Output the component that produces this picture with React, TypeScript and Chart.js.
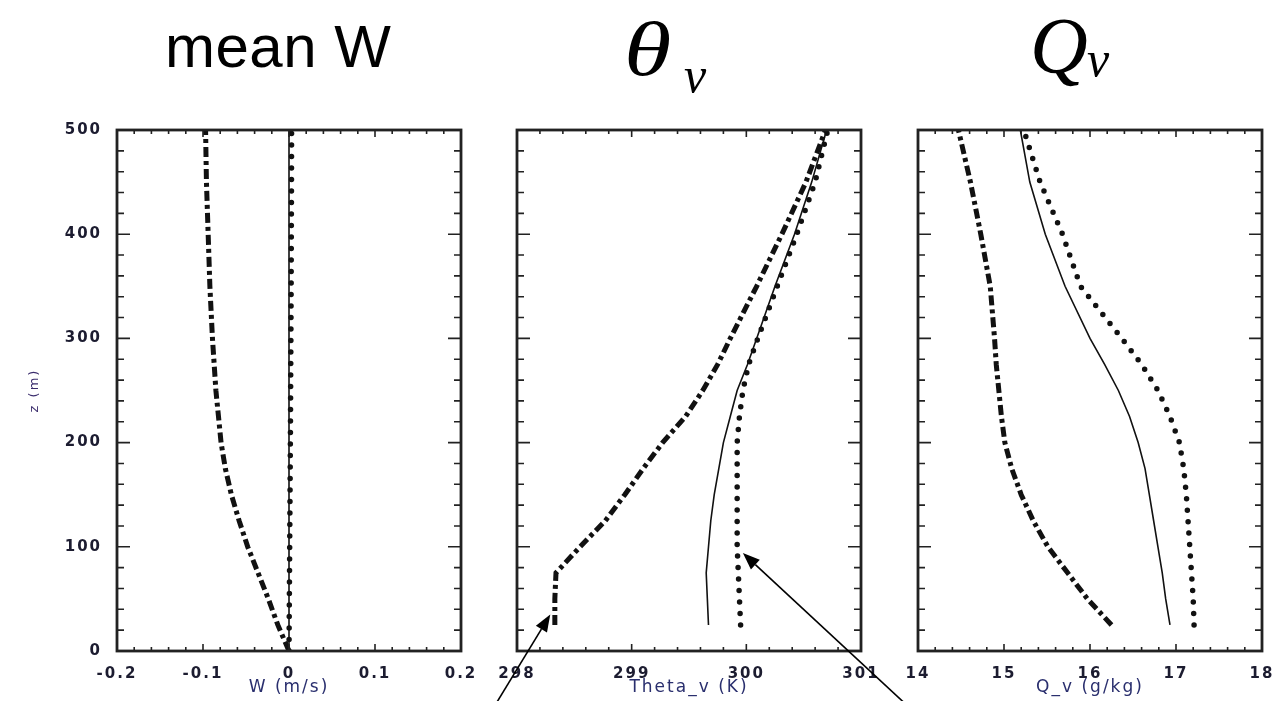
import React, { useEffect, useRef } from "react";
import { Chart, registerables } from "chart.js";

Chart.register(...registerables);

// ---------- Panel 1: mean W ----------
const W_Z = [0, 25, 50, 75, 100, 125, 150, 175, 200, 250, 300, 350, 400, 450, 500];
const W_DASHDOT = [0, -0.013, -0.024, -0.036, -0.048, -0.058, -0.067, -0.074, -0.079, -0.085, -0.089, -0.092, -0.094, -0.096, -0.097];
const W_SOLID = [0, 0, 0, 0, 0, 0, 0, 0, 0, 0, 0, 0, 0, 0, 0];
const W_DOTTED = [0, 0.0002, 0.0004, 0.0006, 0.0008, 0.001, 0.0012, 0.0014, 0.0016, 0.0019, 0.0022, 0.0025, 0.0027, 0.0029, 0.003];
const W_TICKS = [-0.2, -0.1, 0, 0.1, 0.2];
const W_TICK_LABELS = ["-0.2", "-0.1", "0", "0.1", "0.2"];

// ---------- Panels 2 & 3: common heights ----------
const PROFILE_Z = [25, 50, 75, 100, 125, 150, 175, 200, 225, 250, 275, 300, 350, 400, 450, 500];

// ---------- Panel 2: Theta_v ----------
const TH_DASHDOT = [298.33, 298.33, 298.34, 298.55, 298.77, 298.94, 299.1, 299.27, 299.47, 299.62, 299.75, 299.86, 300.09, 300.31, 300.52, 300.69];
const TH_SOLID = [299.67, 299.66, 299.65, 299.67, 299.69, 299.72, 299.76, 299.8, 299.86, 299.92, 300.01, 300.09, 300.25, 300.42, 300.57, 300.7];
const TH_DOTTED = [299.95, 299.94, 299.93, 299.92, 299.92, 299.92, 299.92, 299.92, 299.94, 299.97, 300.02, 300.1, 300.27, 300.44, 300.6, 300.71];
const TH_TICKS = [298, 299, 300, 301];
const TH_TICK_LABELS = ["298", "299", "300", "301"];
// arrow annotations (tail -> tip) in data units of panel 2
const ARROW_TIPS = [
  { x: 298.29, y: 35 },
  { x: 299.97, y: 94 },
];
const ARROW_TAILS = [
  { x: 297.82, y: -50 },
  { x: 301.38, y: -50 },
];

// ---------- Panel 3: Q_v ----------
const Q_DASHDOT = [16.25, 15.97, 15.74, 15.51, 15.34, 15.2, 15.09, 15.01, 14.97, 14.94, 14.91, 14.89, 14.84, 14.73, 14.61, 14.47];
const Q_SOLID = [16.93, 16.88, 16.84, 16.79, 16.74, 16.69, 16.64, 16.56, 16.46, 16.33, 16.17, 16.0, 15.71, 15.48, 15.3, 15.19];
const Q_DOTTED = [17.21, 17.2, 17.18, 17.16, 17.14, 17.12, 17.09, 17.04, 16.93, 16.79, 16.6, 16.37, 15.89, 15.68, 15.42, 15.23];
const Q_TICKS = [14, 15, 16, 17, 18];
const Q_TICK_LABELS = ["14", "15", "16", "17", "18"];

// ---------- common z axis ----------
const Z_TICKS = [0, 100, 200, 300, 400, 500];
const Z_TICK_LABELS = ["0", "100", "200", "300", "400", "500"];

const INK = "#111";
const TICK_COLOR = "#1c1c30";
const TITLE_COLOR = "#2a2f6e";
const TICK_FONT = { family: "'DejaVu Sans', sans-serif", size: 15, weight: "bold" as const };

function pairs(xs: number[], zs: number[]) {
  return zs.map((z, i) => ({ x: xs[i], y: z }));
}

type PanelSpec = {
  z: number[];
  dashdot: number[];
  solid: number[];
  dotted: number[];
  xMin: number;
  xMax: number;
  xTicks: number[];
  xLabels: string[];
  xMinorStep: number;
  xTitle: string;
  canvasWidth: number;
  yWidth: number;
  rightPad: number;
  showY: boolean;
  arrows?: boolean;
};

const axesPlugin = (spec: PanelSpec) => ({
  id: "idlAxes",
  beforeDraw(chart: any) {
    chart.ctx.letterSpacing = "2px";
  },
  afterDraw(chart: any) {
    const { ctx, chartArea: a, scales } = chart;
    const xs = scales.x;
    const ys = scales.y;
    ctx.save();
    ctx.letterSpacing = "0px";
    ctx.strokeStyle = "#222";
    ctx.lineWidth = 1.6;
    // x ticks (top & bottom, inward)
    const nx = Math.round((spec.xMax - spec.xMin) / spec.xMinorStep);
    const perMajorX = Math.round((spec.xTicks[1] - spec.xTicks[0]) / spec.xMinorStep);
    for (let i = 0; i <= nx; i++) {
      const px = xs.getPixelForValue(spec.xMin + i * spec.xMinorStep);
      const len = i % perMajorX === 0 ? 7 : 4;
      ctx.beginPath();
      ctx.moveTo(px, a.bottom);
      ctx.lineTo(px, a.bottom - len);
      ctx.moveTo(px, a.top);
      ctx.lineTo(px, a.top + len);
      ctx.stroke();
    }
    // y ticks (left & right, inward)
    const zMin = Z_TICKS[0];
    const zMax = Z_TICKS[Z_TICKS.length - 1];
    const zMinor = 20;
    const ny = Math.round((zMax - zMin) / zMinor);
    const perMajorY = Math.round((Z_TICKS[1] - Z_TICKS[0]) / zMinor);
    for (let i = 0; i <= ny; i++) {
      const py = ys.getPixelForValue(zMin + i * zMinor);
      const len = i % perMajorY === 0 ? 13 : 7;
      ctx.beginPath();
      ctx.moveTo(a.left, py);
      ctx.lineTo(a.left + len, py);
      ctx.moveTo(a.right, py);
      ctx.lineTo(a.right - len, py);
      ctx.stroke();
    }
    // frame
    ctx.lineWidth = 2.8;
    ctx.strokeRect(a.left, a.top, a.right - a.left, a.bottom - a.top);

    // arrows
    if (spec.arrows) {
      ctx.strokeStyle = "#000";
      ctx.fillStyle = "#000";
      ctx.lineWidth = 1.6;
      ARROW_TIPS.forEach((tip, i) => {
        const tail = ARROW_TAILS[i];
        const x1 = xs.getPixelForValue(tail.x);
        const y1 = ys.getPixelForValue(tail.y);
        const x2 = xs.getPixelForValue(tip.x);
        const y2 = ys.getPixelForValue(tip.y);
        const ang = Math.atan2(y2 - y1, x2 - x1);
        const headLen = 17;
        const headHalf = 6.5;
        const bx = x2 - headLen * Math.cos(ang);
        const by = y2 - headLen * Math.sin(ang);
        ctx.beginPath();
        ctx.moveTo(x1, y1);
        ctx.lineTo(bx, by);
        ctx.stroke();
        ctx.beginPath();
        ctx.moveTo(x2, y2);
        ctx.lineTo(bx + headHalf * Math.sin(ang), by - headHalf * Math.cos(ang));
        ctx.lineTo(bx - headHalf * Math.sin(ang), by + headHalf * Math.cos(ang));
        ctx.closePath();
        ctx.fill();
      });
    }
    ctx.restore();
    chart.ctx.letterSpacing = "0px";
  },
});

function makeConfig(spec: PanelSpec): any {
  return {
    type: "scatter",
    data: {
      datasets: [
        {
          label: "dash-dot",
          data: pairs(spec.dashdot, spec.z),
          showLine: true,
          borderColor: INK,
          borderWidth: 5,
          borderDash: [10, 4, 4, 4],
          pointRadius: 0,
          fill: false,
        },
        {
          label: "solid",
          data: pairs(spec.solid, spec.z),
          showLine: true,
          borderColor: INK,
          borderWidth: 1.6,
          pointRadius: 0,
          fill: false,
        },
        {
          label: "dotted",
          data: pairs(spec.dotted, spec.z),
          showLine: true,
          borderColor: INK,
          borderWidth: 5.5,
          borderDash: [0, 11.5],
          borderCapStyle: "round",
          pointRadius: 0,
          fill: false,
        },
      ],
    },
    options: {
      responsive: false,
      animation: false,
      maintainAspectRatio: false,
      events: [],
      layout: { padding: { left: 0, top: 130, right: spec.rightPad, bottom: 0 } },
      plugins: { legend: { display: false }, tooltip: { enabled: false }, title: { display: false } },
      scales: {
        x: {
          type: "linear",
          position: "bottom",
          min: spec.xMin,
          max: spec.xMax,
          grid: { display: false, drawTicks: false },
          border: { display: false },
          afterBuildTicks: (s: any) => {
            s.ticks = spec.xTicks.map((v) => ({ value: v }));
          },
          afterFit: (s: any) => {
            s.height = 50;
            s.paddingLeft = 0;
            s.paddingRight = 0;
          },
          ticks: {
            autoSkip: false,
            maxRotation: 0,
            padding: 14,
            color: TICK_COLOR,
            font: TICK_FONT,
            callback: (_v: any, i: number) => spec.xLabels[i],
          },
          title: {
            display: true,
            text: spec.xTitle,
            color: TITLE_COLOR,
            font: { family: "'DejaVu Sans', sans-serif", size: 17 },
            padding: { top: 0, bottom: 3 },
          },
        },
        y: {
          type: "linear",
          position: "left",
          min: Z_TICKS[0],
          max: Z_TICKS[Z_TICKS.length - 1],
          grid: { display: false, drawTicks: false },
          border: { display: false },
          afterBuildTicks: (s: any) => {
            s.ticks = Z_TICKS.map((v) => ({ value: v }));
          },
          afterFit: (s: any) => {
            s.width = spec.yWidth;
            s.paddingTop = 0;
            s.paddingBottom = 0;
          },
          ticks: {
            display: spec.showY,
            padding: 15,
            color: TICK_COLOR,
            font: TICK_FONT,
            callback: (_v: any, i: number) => Z_TICK_LABELS[i],
          },
          title: {
            display: spec.showY,
            text: "z (m)",
            color: "#3a2c6c",
            font: { family: "'DejaVu Sans', sans-serif", size: 13 },
            padding: { top: 27, bottom: 0 },
          },
        },
      },
    },
    plugins: [axesPlugin(spec)],
  };
}

const PANEL_W: PanelSpec = {
  z: W_Z,
  dashdot: W_DASHDOT,
  solid: W_SOLID,
  dotted: W_DOTTED,
  xMin: -0.2,
  xMax: 0.2,
  xTicks: W_TICKS,
  xLabels: W_TICK_LABELS,
  xMinorStep: 0.02,
  xTitle: "W (m/s)",
  canvasWidth: 478,
  yWidth: 117,
  rightPad: 17,
  showY: true,
};

const PANEL_TH: PanelSpec = {
  z: PROFILE_Z,
  dashdot: TH_DASHDOT,
  solid: TH_SOLID,
  dotted: TH_DOTTED,
  xMin: 298,
  xMax: 301,
  xTicks: TH_TICKS,
  xLabels: TH_TICK_LABELS,
  xMinorStep: 0.2,
  xTitle: "Theta_v (K)",
  canvasWidth: 460,
  yWidth: 42,
  rightPad: 74,
  showY: false,
  arrows: true,
};

const PANEL_Q: PanelSpec = {
  z: PROFILE_Z,
  dashdot: Q_DASHDOT,
  solid: Q_SOLID,
  dotted: Q_DOTTED,
  xMin: 14,
  xMax: 18,
  xTicks: Q_TICKS,
  xLabels: Q_TICK_LABELS,
  xMinorStep: 0.2,
  xTitle: "Q_v (g/kg)",
  canvasWidth: 398,
  yWidth: 38,
  rightPad: 16,
  showY: false,
};

const italicSerif: React.CSSProperties = {
  position: "absolute",
  fontFamily: "'Liberation Serif', 'Times New Roman', serif",
  fontStyle: "italic",
  lineHeight: 1,
  whiteSpace: "nowrap",
  color: "#000",
};

export default function App() {
  const r1 = useRef<HTMLCanvasElement>(null);
  const r2 = useRef<HTMLCanvasElement>(null);
  const r3 = useRef<HTMLCanvasElement>(null);

  useEffect(() => {
    const charts = [
      new Chart(r1.current as HTMLCanvasElement, makeConfig(PANEL_W)),
      new Chart(r2.current as HTMLCanvasElement, makeConfig(PANEL_TH)),
      new Chart(r3.current as HTMLCanvasElement, makeConfig(PANEL_Q)),
    ];
    return () => charts.forEach((c) => c.destroy());
  }, []);

  return (
    <div
      style={{
        position: "fixed",
        left: 0,
        top: 0,
        width: 1278,
        height: 701,
        background: "#fff",
        overflow: "hidden",
      }}
    >
      <div
        style={{
          position: "absolute",
          left: 165,
          top: 17,
          fontFamily: "'Liberation Sans', Arial, sans-serif",
          fontSize: 60,
          letterSpacing: 0.5,
          lineHeight: 1,
          whiteSpace: "nowrap",
          color: "#000",
        }}
      >
        mean W
      </div>
      <div
        style={{
          ...italicSerif,
          left: 624,
          top: 11,
          fontSize: 77,
          transform: "scaleX(1.25)",
          transformOrigin: "left top",
        }}
      >
        θ
      </div>
      <div style={{ ...italicSerif, left: 684, top: 50, fontSize: 50 }}>v</div>
      <div style={{ ...italicSerif, left: 1030, top: 6, fontSize: 80 }}>Q</div>
      <div style={{ ...italicSerif, left: 1087, top: 34, fontSize: 50 }}>v</div>

      <canvas ref={r1} width={478} height={701} style={{ position: "absolute", left: 0, top: 0 }} />
      <canvas ref={r2} width={460} height={701} style={{ position: "absolute", left: 475, top: 0 }} />
      <canvas ref={r3} width={398} height={701} style={{ position: "absolute", left: 880, top: 0 }} />
    </div>
  );
}
